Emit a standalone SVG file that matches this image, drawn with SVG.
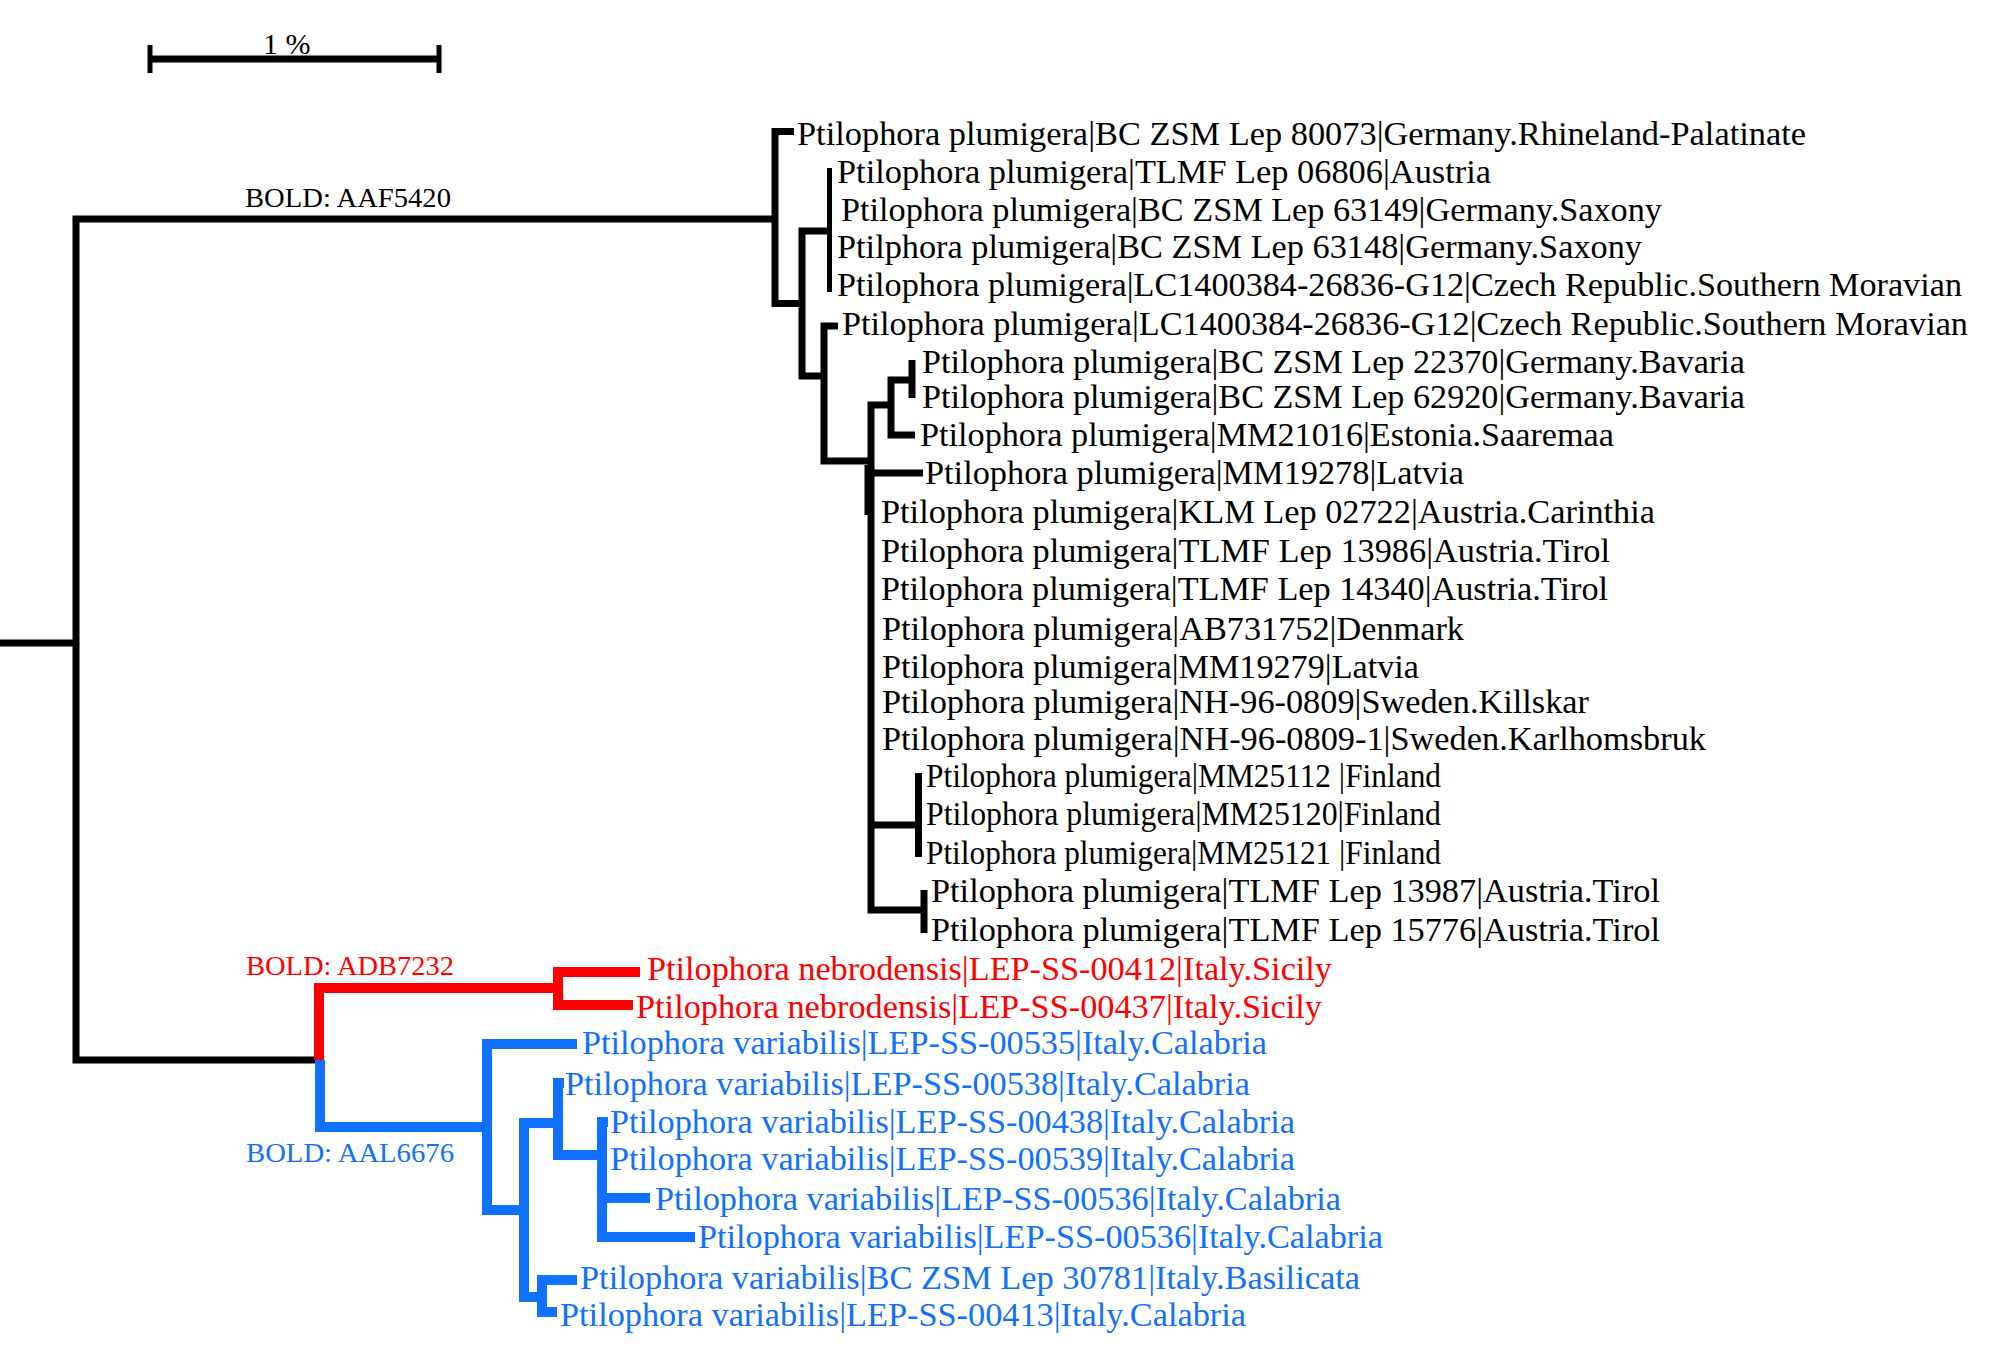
<svg xmlns="http://www.w3.org/2000/svg" width="2008" height="1370" viewBox="0 0 2008 1370">
<style>
text{font-family:"Liberation Serif","Times New Roman",serif;}
.lf{font-size:33px;fill:#000;}
.lr{font-size:33px;fill:#ff0000;}
.lb{font-size:33px;fill:#1070ff;}
.bold{font-size:28px;}
.k{fill:none;stroke:#000;stroke-width:7;stroke-linejoin:miter;stroke-linecap:butt;}
.kt{fill:none;stroke:#000;stroke-width:5;}
.r{fill:none;stroke:#ff0000;stroke-width:10;stroke-linejoin:miter;}
.b{fill:none;stroke:#1070ff;stroke-width:10;stroke-linejoin:miter;}
</style>
<rect width="2008" height="1370" fill="#fff"/>
<g id="scale-bar">
<path class="k" d="M150,59 H439" stroke-width="6"/>
<path class="kt" d="M150,45 V73 M439,45 V73"/>
<text x="263" y="54" font-size="30">1 %</text>
</g>
<g id="connectors">
<path class="k" d="M0,643 H76"/>
<path class="k" d="M775,219 H76 V1060 H316"/>
<path class="k" d="M794,131.5 H775 V303.5 H802"/>
<path class="k" d="M829,231 H802 V376 H824"/>
<path class="kt" d="M829.5,168 V292"/>
<path class="k" d="M838,326 H824 V461 H869"/>
<path class="k" d="M892,405 H871 V910 H923"/>
<path class="k" d="M868,465 V515" stroke-width="5"/>
<path class="k" d="M913,380 H891 V435 H915"/>
<path class="k" d="M912,360 V398" stroke-width="6"/>
<path class="k" d="M871,473 H923"/>
<path class="k" d="M871,825 H918"/>
<path class="k" d="M918.5,773 V857"/>
<path class="k" d="M924,890 V933" stroke-width="6"/>
<path class="r" d="M319,1060 V988 H558"/>
<path class="r" d="M640,972 H558 V1005 H633"/>
<path class="b" d="M320,1060 V1127 H487"/>
<path class="b" d="M577,1044 H487 V1210 H524"/>
<path class="b" d="M560,1123 H524 V1297 H542"/>
<path class="b" d="M564,1083 H558 V1155 H602"/>
<path class="b" d="M608,1122 H602 V1237 H695"/>
<path class="b" d="M602,1198 H650"/>
<path class="b" d="M577,1280 H542 V1312 H557"/>
</g>
<g id="clade-labels">
<text id="bold-aaf5420" class="bold" x="245" y="207" textLength="206" lengthAdjust="spacingAndGlyphs">BOLD: AAF5420</text>
<text id="bold-adb7232" class="bold" x="246" y="975" fill="#ff0000" textLength="208" lengthAdjust="spacingAndGlyphs">BOLD: ADB7232</text>
<text id="bold-aal6676" class="bold" x="246" y="1162" fill="#1070ff" textLength="208" lengthAdjust="spacingAndGlyphs">BOLD: AAL6676</text>
</g>
<g id="leaf-1"><text class="lf" x="797" y="145" textLength="1009" lengthAdjust="spacingAndGlyphs">Ptilophora plumigera|BC ZSM Lep 80073|Germany.Rhineland-Palatinate</text></g>
<g id="leaf-2"><text class="lf" x="837" y="183" textLength="654" lengthAdjust="spacingAndGlyphs">Ptilophora plumigera|TLMF Lep 06806|Austria</text></g>
<g id="leaf-3"><text class="lf" x="841" y="221" textLength="821" lengthAdjust="spacingAndGlyphs">Ptilophora plumigera|BC ZSM Lep 63149|Germany.Saxony</text></g>
<g id="leaf-4"><text class="lf" x="837" y="258" textLength="805" lengthAdjust="spacingAndGlyphs">Ptilphora plumigera|BC ZSM Lep 63148|Germany.Saxony</text></g>
<g id="leaf-5"><text class="lf" x="837" y="296" textLength="1125" lengthAdjust="spacingAndGlyphs">Ptilophora plumigera|LC1400384-26836-G12|Czech Republic.Southern Moravian</text></g>
<g id="leaf-6"><text class="lf" x="842" y="335" textLength="1126" lengthAdjust="spacingAndGlyphs">Ptilophora plumigera|LC1400384-26836-G12|Czech Republic.Southern Moravian</text></g>
<g id="leaf-7"><text class="lf" x="922" y="373" textLength="823" lengthAdjust="spacingAndGlyphs">Ptilophora plumigera|BC ZSM Lep 22370|Germany.Bavaria</text></g>
<g id="leaf-8"><text class="lf" x="922" y="408" textLength="823" lengthAdjust="spacingAndGlyphs">Ptilophora plumigera|BC ZSM Lep 62920|Germany.Bavaria</text></g>
<g id="leaf-9"><text class="lf" x="920" y="446" textLength="694" lengthAdjust="spacingAndGlyphs">Ptilophora plumigera|MM21016|Estonia.Saaremaa</text></g>
<g id="leaf-10"><text class="lf" x="925" y="484" textLength="539" lengthAdjust="spacingAndGlyphs">Ptilophora plumigera|MM19278|Latvia</text></g>
<g id="leaf-11"><text class="lf" x="881" y="523" textLength="774" lengthAdjust="spacingAndGlyphs">Ptilophora plumigera|KLM Lep 02722|Austria.Carinthia</text></g>
<g id="leaf-12"><text class="lf" x="881" y="562" textLength="729" lengthAdjust="spacingAndGlyphs">Ptilophora plumigera|TLMF Lep 13986|Austria.Tirol</text></g>
<g id="leaf-13"><text class="lf" x="881" y="600" textLength="727" lengthAdjust="spacingAndGlyphs">Ptilophora plumigera|TLMF Lep 14340|Austria.Tirol</text></g>
<g id="leaf-14"><text class="lf" x="882" y="640" textLength="582" lengthAdjust="spacingAndGlyphs">Ptilophora plumigera|AB731752|Denmark</text></g>
<g id="leaf-15"><text class="lf" x="882" y="678" textLength="537" lengthAdjust="spacingAndGlyphs">Ptilophora plumigera|MM19279|Latvia</text></g>
<g id="leaf-16"><text class="lf" x="882" y="713" textLength="707" lengthAdjust="spacingAndGlyphs">Ptilophora plumigera|NH-96-0809|Sweden.Killskar</text></g>
<g id="leaf-17"><text class="lf" x="882" y="750" textLength="824" lengthAdjust="spacingAndGlyphs">Ptilophora plumigera|NH-96-0809-1|Sweden.Karlhomsbruk</text></g>
<g id="leaf-18"><text class="lf" x="926" y="787" textLength="515" lengthAdjust="spacingAndGlyphs">Ptilophora plumigera|MM25112 |Finland</text></g>
<g id="leaf-19"><text class="lf" x="926" y="825" textLength="515" lengthAdjust="spacingAndGlyphs">Ptilophora plumigera|MM25120|Finland</text></g>
<g id="leaf-20"><text class="lf" x="926" y="864" textLength="515" lengthAdjust="spacingAndGlyphs">Ptilophora plumigera|MM25121 |Finland</text></g>
<g id="leaf-21"><text class="lf" x="931" y="902" textLength="729" lengthAdjust="spacingAndGlyphs">Ptilophora plumigera|TLMF Lep 13987|Austria.Tirol</text></g>
<g id="leaf-22"><text class="lf" x="931" y="941" textLength="729" lengthAdjust="spacingAndGlyphs">Ptilophora plumigera|TLMF Lep 15776|Austria.Tirol</text></g>
<g id="leaf-r1"><text class="lr" x="647" y="980" textLength="685" lengthAdjust="spacingAndGlyphs">Ptilophora nebrodensis|LEP-SS-00412|Italy.Sicily</text></g>
<g id="leaf-r2"><text class="lr" x="636" y="1018" textLength="686" lengthAdjust="spacingAndGlyphs">Ptilophora nebrodensis|LEP-SS-00437|Italy.Sicily</text></g>
<g id="leaf-b1"><text class="lb" x="582" y="1054" textLength="685" lengthAdjust="spacingAndGlyphs">Ptilophora variabilis|LEP-SS-00535|Italy.Calabria</text></g>
<g id="leaf-b2"><text class="lb" x="565" y="1095" textLength="685" lengthAdjust="spacingAndGlyphs">Ptilophora variabilis|LEP-SS-00538|Italy.Calabria</text></g>
<g id="leaf-b3"><text class="lb" x="610" y="1133" textLength="685" lengthAdjust="spacingAndGlyphs">Ptilophora variabilis|LEP-SS-00438|Italy.Calabria</text></g>
<g id="leaf-b4"><text class="lb" x="610" y="1170" textLength="685" lengthAdjust="spacingAndGlyphs">Ptilophora variabilis|LEP-SS-00539|Italy.Calabria</text></g>
<g id="leaf-b5"><text class="lb" x="655" y="1210" textLength="686" lengthAdjust="spacingAndGlyphs">Ptilophora variabilis|LEP-SS-00536|Italy.Calabria</text></g>
<g id="leaf-b6"><text class="lb" x="698" y="1248" textLength="685" lengthAdjust="spacingAndGlyphs">Ptilophora variabilis|LEP-SS-00536|Italy.Calabria</text></g>
<g id="leaf-b7"><text class="lb" x="580" y="1289" textLength="780" lengthAdjust="spacingAndGlyphs">Ptilophora variabilis|BC ZSM Lep 30781|Italy.Basilicata</text></g>
<g id="leaf-b8"><text class="lb" x="560" y="1326" textLength="686" lengthAdjust="spacingAndGlyphs">Ptilophora variabilis|LEP-SS-00413|Italy.Calabria</text></g>
</svg>
